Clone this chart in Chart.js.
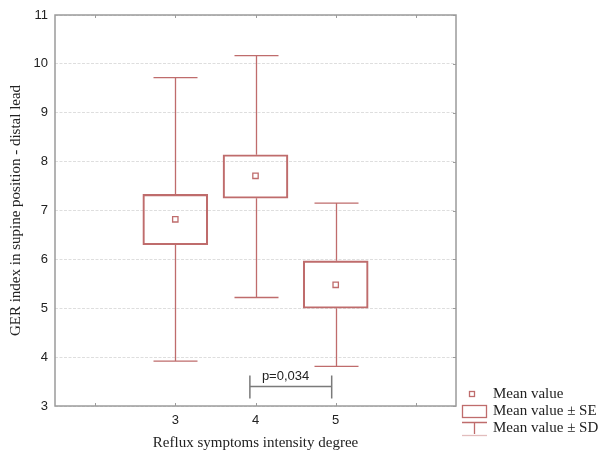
<!DOCTYPE html>
<html>
<head>
<meta charset="utf-8">
<script src="https://cdn.jsdelivr.net/npm/chart.js@4/dist/chart.umd.min.js"></script>
<style>
html, body { margin: 0; padding: 0; background: #fff; }
#wrap { width: 598px; height: 456px; }
</style>
</head>
<body>
<div id="wrap"><canvas id="gerChart" width="598" height="456"></canvas></div>
<script>
// ==========================
// DATA
// ==========================
const degrees = [3, 4, 5];
const xTickLabels = ["3", "4", "5"];
const means  = [6.82, 7.71, 5.48];
const seLow  = [6.30, 7.25, 5.00];
const seHigh = [7.33, 8.14, 5.97];
const sdLow  = [3.92, 5.22, 3.81];
const sdHigh = [9.72, 10.17, 7.15];

// significance bracket between groups 4 and 5
const pFrom = 3.93;
const pTo = 4.95;
const pLevel = 3.40;
const pLabel = "p=0,034";

const legendLabels = ["Mean value", "Mean value \u00b1 SE", "Mean value \u00b1 SD"];

const boxColor = "#bf6c6c";
const frameColor = "#9b9b9b";
const serifFont = "'Liberation Serif', 'Times New Roman', serif";
const sansFont = "'Liberation Sans', Arial, sans-serif";

// ==========================
// BOXES, WHISKERS, FRAME, LEGEND
// ==========================
const boxPlugin = {
    id: "boxPlugin",
    beforeDatasetsDraw(chart) {
        let ctx = chart.ctx;
        let xs = chart.scales.x;
        let ys = chart.scales.y;
        ctx.save();
        ctx.strokeStyle = boxColor;
        ctx.lineWidth = 1.3;
        for (let i = 0; i < degrees.length; i++) {
            let px = Math.round(xs.getPixelForValue(degrees[i])) + 0.5;
            ctx.beginPath();
            ctx.moveTo(px, ys.getPixelForValue(seHigh[i]));
            ctx.lineTo(px, ys.getPixelForValue(sdHigh[i]));
            ctx.moveTo(px, ys.getPixelForValue(seLow[i]));
            ctx.lineTo(px, ys.getPixelForValue(sdLow[i]));
            ctx.moveTo(px - 22, ys.getPixelForValue(sdHigh[i]));
            ctx.lineTo(px + 22, ys.getPixelForValue(sdHigh[i]));
            ctx.moveTo(px - 22, ys.getPixelForValue(sdLow[i]));
            ctx.lineTo(px + 22, ys.getPixelForValue(sdLow[i]));
            ctx.stroke();
        }
        ctx.restore();
    },
    afterDraw(chart) {
        let ctx = chart.ctx;
        let a = chart.chartArea;
        let xs = chart.scales.x;
        let ys = chart.scales.y;
        ctx.save();

        // -------- frame + inward ticks --------
        ctx.strokeStyle = frameColor;
        ctx.lineWidth = 1.5;
        ctx.strokeRect(a.left, a.top, a.right - a.left, a.bottom - a.top);
        ctx.lineWidth = 1;
        ctx.beginPath();
        xs.ticks.forEach(t => {
            let px = Math.round(xs.getPixelForValue(t.value)) + 0.5;
            ctx.moveTo(px, a.top); ctx.lineTo(px, a.top + 3);
            ctx.moveTo(px, a.bottom); ctx.lineTo(px, a.bottom - 3);
        });
        ys.ticks.forEach(t => {
            let py = Math.round(ys.getPixelForValue(t.value)) + 0.5;
            ctx.moveTo(a.right, py); ctx.lineTo(a.right - 3, py);
        });
        ctx.stroke();

        // -------- p value bracket --------
        let bx1 = xs.getPixelForValue(pFrom);
        let bx2 = xs.getPixelForValue(pTo);
        let by = ys.getPixelForValue(pLevel);
        ctx.strokeStyle = "#7a7a7a";
        ctx.lineWidth = 1.5;
        ctx.beginPath();
        ctx.moveTo(bx1, by); ctx.lineTo(bx2, by);
        ctx.moveTo(bx1, by - 11); ctx.lineTo(bx1, by + 12);
        ctx.moveTo(bx2, by - 11); ctx.lineTo(bx2, by + 12);
        ctx.stroke();
        ctx.fillStyle = "#222";
        ctx.font = "13px " + sansFont;
        ctx.textAlign = "left";
        ctx.textBaseline = "alphabetic";
        ctx.fillText(pLabel, bx1 + 12, by - 6);

        // -------- legend --------
        ctx.font = "15px " + serifFont;
        ctx.fillStyle = "#222";
        ctx.textBaseline = "middle";
        ctx.strokeStyle = boxColor;
        ctx.lineWidth = 1.3;
        ctx.strokeRect(469.5, 391.5, 5, 5);
        ctx.fillText(legendLabels[0], 493, 394);
        ctx.strokeRect(462.5, 405.5, 24, 12);
        ctx.fillText(legendLabels[1], 493, 411);
        ctx.beginPath();
        ctx.moveTo(462, 422.5); ctx.lineTo(487, 422.5);
        ctx.moveTo(474.5, 422.5); ctx.lineTo(474.5, 434);
        ctx.stroke();
        ctx.globalAlpha = 0.45;
        ctx.beginPath();
        ctx.moveTo(462, 435.5); ctx.lineTo(487, 435.5);
        ctx.stroke();
        ctx.globalAlpha = 1;
        ctx.fillText(legendLabels[2], 493, 428);

        ctx.restore();
    }
};

// ==========================
// CHART
// ==========================
let ctx = document.getElementById("gerChart").getContext("2d");

new Chart(ctx, {
    type: "bar",
    data: {
        datasets: [
            {
                type: "bar",
                label: legendLabels[1],
                data: degrees.map((d, i) => ({ x: d, y: [seLow[i], seHigh[i]] })),
                backgroundColor: "rgba(255,255,255,0)",
                borderColor: boxColor,
                borderWidth: 1.5,
                borderSkipped: false,
                barThickness: 65
            },
            {
                type: "scatter",
                label: legendLabels[0],
                data: degrees.map((d, i) => ({ x: d, y: means[i] })),
                pointStyle: "rect",
                pointRadius: 3.8,
                borderWidth: 1.3,
                borderColor: boxColor,
                backgroundColor: "#fff"
            }
        ]
    },
    options: {
        responsive: false,
        devicePixelRatio: 1,
        animation: false,
        layout: { padding: { top: 15, right: 142, left: 0, bottom: 0 } },
        plugins: {
            legend: { display: false },
            tooltip: { enabled: false }
        },
        scales: {
            x: {
                type: "linear",
                min: 1.5,
                max: 6.5,
                offset: false,
                afterFit: s => { s.height = 50; },
                afterBuildTicks: s => {
                    s.ticks = [2, 3, 4, 5, 6].map(v => ({ value: v }));
                },
                grid: { display: false, drawTicks: false },
                border: { display: false },
                ticks: {
                    padding: 7,
                    color: "#222",
                    font: { family: sansFont, size: 13 },
                    callback: v => {
                        let k = degrees.indexOf(v);
                        return k >= 0 ? xTickLabels[k] : "";
                    }
                },
                title: {
                    display: true,
                    text: "Reflux symptoms intensity degree",
                    color: "#222",
                    padding: { top: 0, bottom: 4 },
                    font: { family: serifFont, size: 15 }
                }
            },
            y: {
                min: 3,
                max: 11,
                beginAtZero: false,
                afterFit: s => { s.width = 55; },
                grid: { color: "#dedede", lineWidth: 1, drawTicks: false },
                border: { display: false, dash: [3, 1.5] },
                ticks: {
                    stepSize: 1,
                    padding: 7,
                    color: "#222",
                    font: { family: sansFont, size: 13 }
                },
                title: {
                    display: true,
                    text: "GER index in supine position - distal lead",
                    color: "#222",
                    padding: { top: 7, bottom: 0 },
                    font: { family: serifFont, size: 15 }
                }
            }
        }
    },
    plugins: [boxPlugin]
});
</script>
</body>
</html>
